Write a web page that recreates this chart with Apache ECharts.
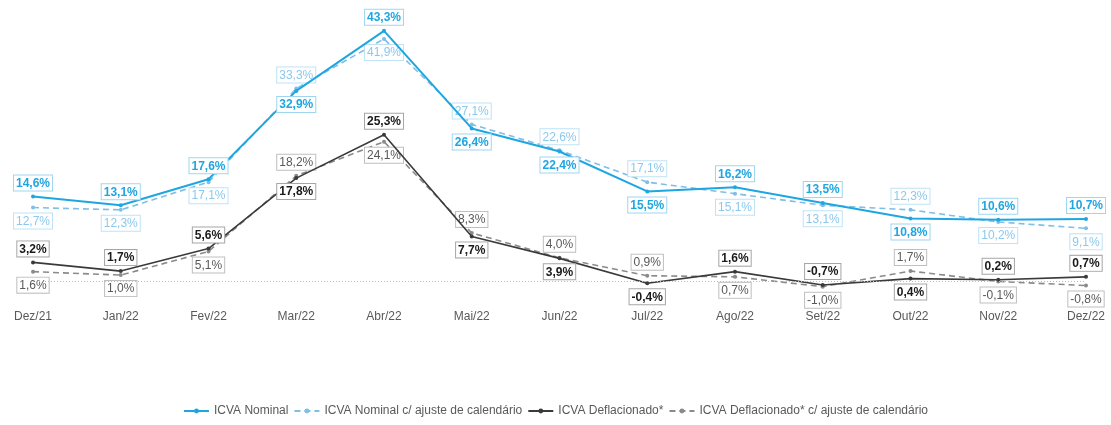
<!DOCTYPE html>
<html>
<head>
<meta charset="utf-8">
<script src="https://cdn.jsdelivr.net/npm/echarts@6/dist/echarts.min.js"></script>
<style>html,body{margin:0;padding:0;background:#fff}#c{width:1111px;height:425px}</style>
</head>
<body>
<div id="c"></div>
<script>
const categories = ['Dez/21','Jan/22','Fev/22','Mar/22','Abr/22','Mai/22','Jun/22','Jul/22','Ago/22','Set/22','Out/22','Nov/22','Dez/22'];
const nominal = [14.6,13.1,17.6,32.9,43.3,26.4,22.4,15.5,16.2,13.5,10.8,10.6,10.7];
const nominalAdj = [12.7,12.3,17.1,33.3,41.9,27.1,22.6,17.1,15.1,13.1,12.3,10.2,9.1];
const deflated = [3.2,1.7,5.6,17.8,25.3,7.7,3.9,-0.4,1.6,-0.7,0.4,0.2,0.7];
const deflatedAdj = [1.6,1.0,5.1,18.2,24.1,8.3,4.0,0.9,0.7,-1.0,1.7,-0.1,-0.8];
const seriesNames = ['ICVA Nominal','ICVA Nominal c/ ajuste de calendário','ICVA Deflacionado*','ICVA Deflacionado* c/ ajuste de calendário'];

// label sides (T = above, B = below)
const sideNominal     = 'TTTBTBBBTTBTT';
const sideNominalAdj  = 'BBBTBTTTBBTBB';
const sideDeflated    = 'TTTBTBBBTTBTT';
const sideDeflatedAdj = 'BBBTBTTTBBTBB';

function fmt(v){ return v.toFixed(1).replace('.', ',') + '%'; }

function mkData(vals, sides){
  return vals.map((v,i)=>({value:v, label:{position: sides[i]==='T'?'top':'bottom'}}));
}

function mkSeries(name, vals, sides, color, dashed, width, lblColor, lblBorder, bold, z){
  return {
    name, type:'line', data: mkData(vals, sides), z,
    symbol:'circle', symbolSize:4, showSymbol:true,
    itemStyle:{color},
    lineStyle:{color, width, type: dashed ? [6,4] : 'solid'},
    label:{
      show:true, formatter: p => fmt(p.value), distance:4,
      color:lblColor, fontFamily:'Liberation Sans, Arial, sans-serif', fontSize:12,
      fontWeight: bold ? 'bold' : 'normal',
      backgroundColor:'#fff', borderColor:lblBorder, borderWidth:1, padding:[2,2,1,2]
    },
    emphasis:{disabled:true},
    animation:false
  };
}

const chart = echarts.init(document.getElementById('c'), null, {renderer:'canvas'});
const s1 = mkSeries(seriesNames[0], nominal, sideNominal, '#1FA6E0', false, 2, '#1FA6E0', '#9ED6F2', true, 4);
const s2 = mkSeries(seriesNames[1], nominalAdj, sideNominalAdj, '#7DBFE8', true, 1.6, '#8CC8EC', '#BFE2F5', false, 3);
const s3 = mkSeries(seriesNames[2], deflated, sideDeflated, '#3A3A3A', false, 1.6, '#1A1A1A', '#A6A6A6', true, 4);
const s4 = mkSeries(seriesNames[3], deflatedAdj, sideDeflatedAdj, '#8A8A8A', true, 1.6, '#595959', '#BFBFBF', false, 3);
s4.markLine = {
  silent:true, symbol:'none', label:{show:false},
  lineStyle:{color:'#BDBDBD', type:[1,2], width:1},
  data:[{yAxis:0}]
};

chart.setOption({
  animation:false,
  grid:{left:33, right:25, top:21, bottom:121},
  xAxis:{
    type:'category', data:categories, boundaryGap:false,
    axisLine:{show:false}, axisTick:{show:false},
    axisLabel:{color:'#595959', fontSize:12, fontFamily:'Liberation Sans, Arial, sans-serif', margin:7}
  },
  yAxis:{type:'value', min:-4, max:45, show:false, splitLine:{show:false}},
  legend:{
    bottom:3, left:'center', itemWidth:25, itemHeight:6, itemGap:5,
    textStyle:{color:'#595959', fontSize:12, fontFamily:'Liberation Sans, Arial, sans-serif'},
    data:seriesNames
  },
  series:[s1,s2,s3,s4]
});
</script>
</body>
</html>
